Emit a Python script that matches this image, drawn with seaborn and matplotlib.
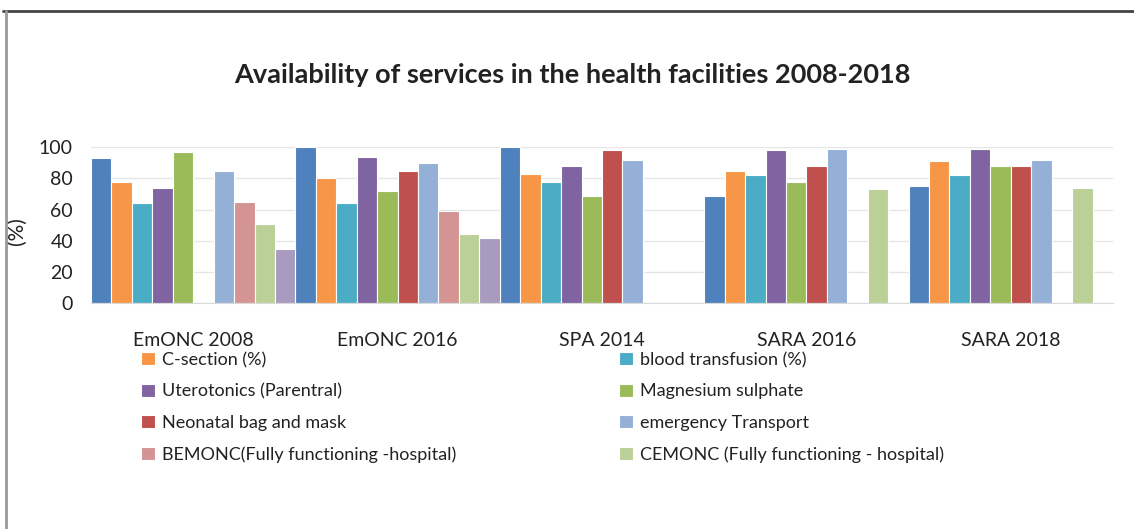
import numpy as np
import pandas as pd
import matplotlib.pyplot as plt
import seaborn as sns
from matplotlib.lines import Line2D

# Данные
surveys = ['EmONC 2008', 'EmONC 2016', 'SPA 2014', 'SARA 2016', 'SARA 2018']
services = ['Antibiotics (Parenteral)', 'C-section (%)', 'blood transfusion (%)',
            'Uterotonics (Parentral)', 'Magnesium sulphate', 'Neonatal bag and mask',
            'emergency Transport', 'BEMONC(Fully functioning -hospital)',
            'CEMONC (Fully functioning - hospital)', 'Other']
antibiotics = [93, 100, 100, 69, 75]
c_section = [78, 80, 83, 85, 91]
blood_transfusion = [64, 64, 78, 82, 82]
uterotonics = [74, 94, 88, 98, 99]
magnesium = [97, 72, 69, 78, 88]
bag_mask = [np.nan, 85, 98, 88, 88]
transport = [85, 90, 92, 99, 92]
bemonc = [65, 59, np.nan, np.nan, np.nan]
cemonc = [51, 44, np.nan, 73, 74]
other = [35, 42, np.nan, np.nan, np.nan]
colors = ['#4F81BD', '#F79646', '#4BACC6', '#8064A2', '#9BBB59', '#C0504D',
          '#95B0D6', '#D49494', '#BBD096', '#A99BC0']

series = [antibiotics, c_section, blood_transfusion, uterotonics, magnesium,
          bag_mask, transport, bemonc, cemonc, other]
rows = []
for name, vals in zip(services, series):
    for s, v in zip(surveys, vals):
        rows.append({'Survey': s, 'Service': name, 'Value': v})
df = pd.DataFrame(rows)

sns.set_style("white")
plt.rcParams['font.family'] = ['Lato', 'DejaVu Sans']

fig = plt.figure(figsize=(11.34, 5.29), dpi=100)
ax = fig.add_axes([91 / 1134, 1 - 303 / 529, (1113 - 91) / 1134, (303 - 147.3) / 529])

sns.barplot(data=df, x='Survey', y='Value', hue='Service', order=surveys,
            hue_order=services, palette=colors, saturation=1, width=1.0,
            errorbar=None, edgecolor='white', linewidth=0.8, ax=ax)

handles, labels = ax.get_legend_handles_labels()
ax.get_legend().remove()

ax.set_xlim(-0.5, 4.5)
ax.set_ylim(0, 100)
ax.set_yticks([0, 20, 40, 60, 80, 100])
ax.yaxis.grid(True, color='#E6E6E6', linewidth=1)
ax.set_axisbelow(True)
for sp in ['top', 'right', 'left']:
    ax.spines[sp].set_visible(False)
ax.spines['bottom'].set_color('#D9D9D9')
ax.tick_params(axis='both', length=0, colors='#222222')
ax.tick_params(axis='y', labelsize=14, pad=13)
ax.tick_params(axis='x', labelsize=14, pad=21)
ax.set_xlabel('')
ax.set_ylabel('(%)', fontsize=15, color='#222222')
ax.yaxis.set_label_coords(-0.0626, 0.46)

fig.text(0.505, 1 - 75 / 529, 'Availability of services in the health facilities 2008-2018',
         ha='center', va='center', fontsize=19.5, fontweight='bold', color='#222222')

# Легенда: две колонки по 4 строки
hmap = dict(zip(labels, handles))
left_col = [services[1], services[3], services[5], services[7]]
right_col = [services[2], services[4], services[6], services[8]]
for col, x0 in [(left_col, 141 / 1134), (right_col, 619 / 1134)]:
    fig.legend([hmap[n] for n in col], col, loc='upper left',
               bbox_to_anchor=(x0, 1 - 352 / 529), frameon=False, fontsize=13,
               handlelength=0.75, handleheight=0.75, handletextpad=0.4,
               labelspacing=0.85, borderpad=0, borderaxespad=0, labelcolor='#222222')

# Рамка
fig.add_artist(Line2D([3 / 1134, 1], [1 - 11 / 529] * 2, color='#444444', lw=2))
fig.add_artist(Line2D([6 / 1134] * 2, [0, 1 - 11 / 529], color='#999999', lw=2))

plt.savefig('out.png', dpi=100)
